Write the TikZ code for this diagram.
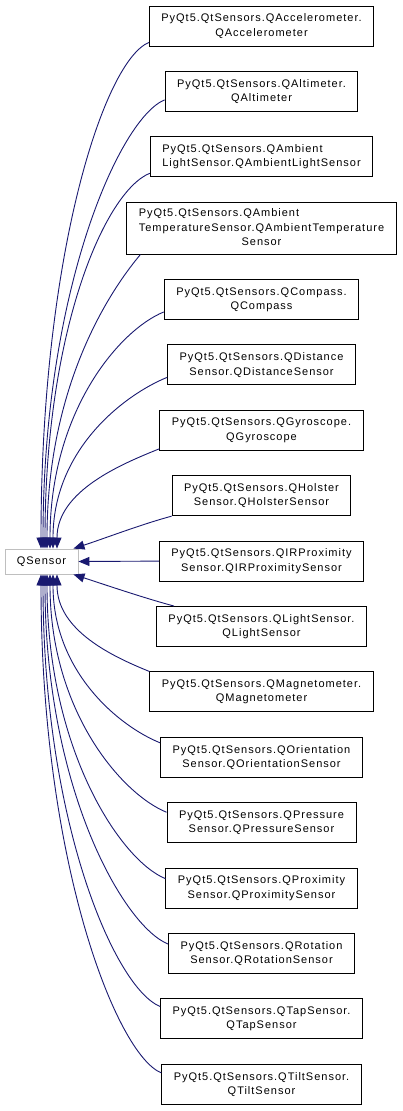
\documentclass[tikz,border=0pt]{standalone}
\usepackage{fontspec}
\setmainfont{Liberation Sans}[LetterSpace=9.0]
\usetikzlibrary{arrows.meta, positioning}
\definecolor{edgeblue}{HTML}{191970}
\definecolor{basegray}{HTML}{BFBFBF}
\tikzstyle{derived} = [rectangle, draw=black, fill=white, line width=0.9pt, minimum height=40pt, inner xsep=12pt, inner ysep=4.5pt, align=center, font=\fontsize{11}{14.3}\selectfont]
\tikzstyle{base} = [rectangle, draw=basegray, fill=white, line width=0.9pt, minimum width=73pt, minimum height=25pt, font=\fontsize{11}{14.3}\selectfont]
\tikzstyle{inherit} = [draw=edgeblue, line width=0.9pt, -{Triangle[length=11pt,width=9pt]}]

\begin{document}
\begin{tikzpicture}[x=1pt, y=1pt, node distance=24.5pt]
\useasboundingbox (0,0) rectangle (403,-1111);

% Base class
\node (qs) [base] at (41.5,-561.5) {QSensor};

% Derived classes
\node (c1) [derived] at (261.5,-26) {PyQt5.QtSensors.QAccelerometer.\\QAccelerometer};
\node (c2) [derived, below=of c1] {PyQt5.QtSensors.QAltimeter.\\QAltimeter};
\node (c3) [derived, below=of c2, align=left] {PyQt5.QtSensors.QAmbient\\LightSensor.QAmbientLightSensor};
\node (c4) [derived, below=of c3] {\begin{tabular}{@{}l@{}}PyQt5.QtSensors.QAmbient\\TemperatureSensor.QAmbientTemperature\\\multicolumn{1}{@{}c@{}}{Sensor}\end{tabular}};
\node (c5) [derived, below=of c4] {PyQt5.QtSensors.QCompass.\\QCompass};
\node (c6) [derived, below=of c5] {PyQt5.QtSensors.QDistance\\Sensor.QDistanceSensor};
\node (c7) [derived, below=of c6] {PyQt5.QtSensors.QGyroscope.\\QGyroscope};
\node (c8) [derived, below=of c7] {PyQt5.QtSensors.QHolster\\Sensor.QHolsterSensor};
\node (c9) [derived, below=of c8] {PyQt5.QtSensors.QIRProximity\\Sensor.QIRProximitySensor};
\node (c10) [derived, below=of c9] {PyQt5.QtSensors.QLightSensor.\\QLightSensor};
\node (c11) [derived, below=of c10] {PyQt5.QtSensors.QMagnetometer.\\QMagnetometer};
\node (c12) [derived, below=of c11] {PyQt5.QtSensors.QOrientation\\Sensor.QOrientationSensor};
\node (c13) [derived, below=of c12] {PyQt5.QtSensors.QPressure\\Sensor.QPressureSensor};
\node (c14) [derived, below=of c13] {PyQt5.QtSensors.QProximity\\Sensor.QProximitySensor};
\node (c15) [derived, below=of c14] {PyQt5.QtSensors.QRotation\\Sensor.QRotationSensor};
\node (c16) [derived, below=of c15] {PyQt5.QtSensors.QTapSensor.\\QTapSensor};
\node (c17) [derived, below=of c16] {PyQt5.QtSensors.QTiltSensor.\\QTiltSensor};

% Inheritance edges (upper half)
\draw [inherit] ([yshift=4pt]c1.south west) to[out=202, in=90, out distance=48pt, in distance=295pt] ([xshift=-0.5pt]qs.north);
\draw [inherit] ([yshift=12pt]c2.south west) to[out=202, in=90, out distance=48pt, in distance=260pt] ([xshift=1.5pt]qs.north);
\draw [inherit] ([yshift=4pt]c3.south west) to[out=202, in=90, out distance=48pt, in distance=220pt] ([xshift=3.5pt]qs.north);
\draw [inherit] ([xshift=14pt]c4.south west) to[out=230, in=90, out distance=39pt, in distance=170pt] ([xshift=5.5pt]qs.north);
\draw [inherit] ([yshift=8pt]c5.south west) to[out=202, in=90, out distance=48pt, in distance=137pt] ([xshift=8.5pt]qs.north);
\draw [inherit] ([yshift=8pt]c6.south west) to[out=202, in=90, out distance=45pt, in distance=100pt] ([xshift=11.5pt]qs.north);
\draw [inherit] ([yshift=2pt]c7.south west) to[out=202, in=90, out distance=40pt, in distance=58pt] ([xshift=15.5pt]qs.north);
\draw [inherit] (c8.south west) to[out=195, in=18, out distance=31pt, in distance=32pt] ([xshift=-5pt]qs.north east);
\draw [inherit] (c9.west) -- (qs.east);

% Inheritance edges (lower half)
\draw [inherit] ([xshift=18pt]c10.north west) to[out=165, in=-18, out distance=31pt, in distance=32pt] ([xshift=-5pt]qs.south east);
\draw [inherit] (c11.north west) to[out=158, in=270, out distance=40pt, in distance=56pt] ([xshift=15.5pt]qs.south);
\draw [inherit] ([yshift=-6pt]c12.north west) to[out=158, in=270, out distance=45pt, in distance=97pt] ([xshift=11.5pt]qs.south);
\draw [inherit] ([yshift=-10pt]c13.north west) to[out=158, in=270, out distance=48pt, in distance=137pt] ([xshift=8.5pt]qs.south);
\draw [inherit] ([yshift=-11pt]c14.north west) to[out=158, in=270, out distance=48pt, in distance=176pt] ([xshift=5.5pt]qs.south);
\draw [inherit] ([yshift=-11pt]c15.north west) to[out=158, in=270, out distance=48pt, in distance=214pt] ([xshift=3.5pt]qs.south);
\draw [inherit] ([yshift=-8pt]c16.north west) to[out=158, in=270, out distance=48pt, in distance=250pt] ([xshift=1.5pt]qs.south);
\draw [inherit] ([yshift=-9pt]c17.north west) to[out=158, in=270, out distance=48pt, in distance=289pt] ([xshift=-0.5pt]qs.south);

\end{tikzpicture}
\end{document}
